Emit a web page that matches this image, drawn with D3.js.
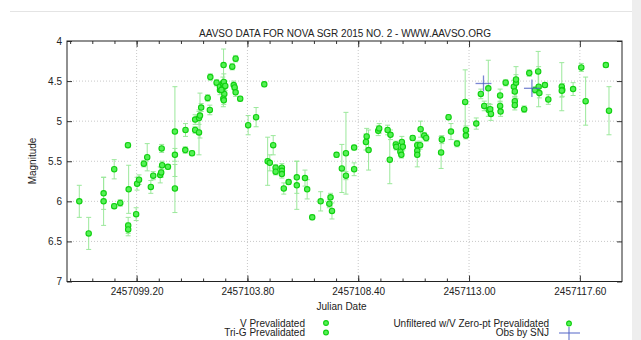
<!DOCTYPE html>
<html>
<head>
<meta charset="utf-8">
<title>AAVSO Nova Sgr 2015 No. 2</title>
<script src="https://cdn.jsdelivr.net/npm/d3@7"></script>
<style>
body { margin: 0; background: #fff; }
text { font-family: "Liberation Sans", Arial, sans-serif; font-size: 10px; fill: #222; }
.grid line { stroke: #c8c8c8; stroke-dasharray: 1,2; }
.ebar { stroke: #9be89b; stroke-width: 1; }
.pt { fill: #55f055; stroke: #10d010; stroke-width: 1.1; }
.snj { stroke: #4d5fc4; stroke-width: 1.3; stroke-opacity: 0.75; }
</style>
</head>
<body>
<div id="chart"></div>
<script>
// julian date minus 2457000
var jd = [96.82, 97.21, 97.83, 97.83, 98.27, 98.27, 98.52, 98.84, 98.87, 98.85, 98.85, 99.18, 99.22, 99.30,
	99.50, 99.64, 99.79, 99.89, 100.18, 100.22, 100.26, 100.24, 100.50, 100.79, 100.79, 100.79, 101.22, 101.23,
	101.50, 101.63, 101.79, 101.63, 101.79, 101.83, 101.88, 102.15, 102.24, 102.26, 102.52, 102.66, 102.66,
	102.81, 102.78, 102.82, 102.76, 102.84, 102.80, 102.82, 102.88, 102.72, 103.17, 103.31, 103.23, 103.27,
	103.31, 103.50, 103.83, 104.16, 104.50, 104.64, 104.73, 104.87, 104.97, 104.97, 105.23, 105.23, 105.23,
	105.31, 105.51, 105.85, 105.85, 106.19, 106.28, 106.49, 106.84, 107.20, 107.25, 107.31, 107.50, 107.72,
	107.89, 107.89, 108.23, 108.23, 108.72, 108.75, 108.83, 109.23, 109.27, 109.62, 109.74, 109.71, 109.96,
	109.98, 110.21, 110.25, 110.15, 110.19, 110.66, 110.85, 110.85, 110.85, 110.97, 110.99, 111.14, 111.22,
	111.84, 111.87, 112.15, 112.25, 112.50, 112.84, 112.87, 112.87, 113.30, 113.49, 113.63, 113.80, 113.82,
	113.88, 113.91, 114.29, 114.29, 114.31, 114.52, 114.86, 114.90, 114.95, 114.95, 114.90, 114.90, 115.29,
	115.50, 115.74, 115.87, 115.89, 115.92, 116.15, 116.29, 116.85, 116.87, 116.85, 117.32, 117.66, 117.84,
	118.68, 118.81];
var mag = [6.00, 6.40, 5.90, 6.00, 5.60, 6.06, 6.02, 5.30, 5.85, 6.30, 6.35, 6.16, 5.78, 5.73,
	5.53, 5.45, 5.82, 5.68, 5.67, 5.64, 5.55, 5.34, 5.57, 5.13, 5.42, 5.84, 5.36, 5.11,
	5.40, 5.11, 5.14, 4.98, 4.96, 4.93, 4.83, 4.71, 4.86, 4.45, 4.52, 4.61, 4.57,
	4.30, 4.53, 4.51, 4.60, 4.66, 4.72, 4.74, 4.56, 4.61, 4.32, 4.22, 4.55, 4.58,
	4.64, 4.72, 5.05, 4.95, 4.54, 5.50, 5.52, 5.30, 5.58, 5.63, 5.58, 5.62, 5.66,
	5.84, 5.76, 5.70, 5.80, 5.71, 5.85, 6.20, 6.00, 6.03, 5.95, 6.12, 5.42, 5.59,
	5.40, 5.68, 5.60, 5.33, 5.26, 5.19, 5.36, 5.12, 5.09, 5.11, 5.17, 5.48, 5.29,
	5.32, 5.26, 5.32, 5.38, 5.42, 5.21, 5.30, 5.37, 5.42, 5.30, 5.10, 5.18, 5.21,
	5.39, 5.23, 4.95, 5.13, 5.28, 4.76, 5.18, 5.11, 5.03, 4.66, 4.81, 4.59, 4.86,
	4.85, 4.91, 4.68, 4.81, 4.88, 4.52, 4.57, 4.63, 4.52, 4.48, 4.75, 4.80, 4.85,
	4.40, 4.61, 4.38, 4.57, 4.65, 4.55, 4.73, 4.57, 4.61, 4.62, 4.60, 4.33, 4.75,
	4.30, 4.87];
var err = [0.20, 0.20, 0.20, 0.30, 0.12, 0.03, 0.04, 0.03, 0.30, 0.10, 0.08, 0.08, 0.08, 0.06,
	0.04, 0.17, 0.08, 0.05, 0.10, 0.06, 0.05, 0.05, 0.03, 0.56, 0.08, 0.30, 0.04, 0.08,
	0.03, 0.04, 0.28, 0.06, 0.08, 0.28, 0.05, 0.04, 0.06, 0.04, 0.04, 0.06, 0.05,
	0.20, 0.08, 0.10, 0.10, 0.06, 0.10, 0.05, 0.06, 0.05, 0.04, 0.04, 0.05, 0.04,
	0.05, 0.03, 0.12, 0.12, 0.03, 0.30, 0.10, 0.12, 0.04, 0.04, 0.05, 0.05, 0.05,
	0.07, 0.03, 0.20, 0.30, 0.10, 0.12, 0.03, 0.12, 0.05, 0.05, 0.10, 0.03, 0.30,
	0.51, 0.05, 0.08, 0.03, 0.10, 0.10, 0.25, 0.06, 0.06, 0.06, 0.06, 0.30, 0.04,
	0.04, 0.07, 0.05, 0.04, 0.04, 0.03, 0.05, 0.05, 0.15, 0.05, 0.10, 0.04, 0.04,
	0.20, 0.05, 0.03, 0.10, 0.04, 0.40, 0.04, 0.05, 0.07, 0.06, 0.06, 0.35, 0.08,
	0.06, 0.08, 0.08, 0.06, 0.06, 0.04, 0.08, 0.06, 0.20, 0.06, 0.05, 0.06, 0.04,
	0.04, 0.04, 0.25, 0.25, 0.06, 0.03, 0.06, 0.30, 0.08, 0.08, 0.08, 0.05, 0.30,
	0.03, 0.30];

// Obs by SNJ
var snjJd = [113.60, 115.61];
var snjMag = [4.53, 4.59];
var snjJdErr = [0.33, 0.33];
var snjMagErr = [0.10, 0.11];

var xTicks = [99.2, 103.8, 108.4, 113.0, 117.6];
var yTicks = [4, 4.5, 5, 5.5, 6, 6.5, 7];
var legendLeft = ["V Prevalidated", "Tri-G Prevalidated"];
var legendRight = ["Unfiltered w/V Zero-pt Prevalidated", "Obs by SNJ"];

var W = 641, H = 340;
var L = 67, R = 622, T = 41, B = 281.5;

var svg = d3.select("#chart").append("svg").attr("width", W).attr("height", H);

// screenshot frame
svg.append("line").attr("x1", 10).attr("x2", 632).attr("y1", 11.5).attr("y2", 11.5)
	.attr("stroke", "#e4e4e4");
svg.append("rect").attr("x", 632).attr("y", 0).attr("width", 9).attr("height", H).attr("fill", "#eeeeee");

var x = d3.scaleLinear().domain([96.31, 119.35]).range([L, R]);
var y = d3.scaleLinear().domain([4, 7]).range([T, B]);

// grid
var grid = svg.append("g").attr("class", "grid");
grid.selectAll(".gx").data(xTicks).enter().append("line")
	.attr("x1", function(d) { return x(d); }).attr("x2", function(d) { return x(d); })
	.attr("y1", T).attr("y2", B);
grid.selectAll(".gy").data(yTicks.slice(1, -1)).enter().append("line")
	.attr("x1", L).attr("x2", R)
	.attr("y1", function(d) { return y(d); }).attr("y2", function(d) { return y(d); });

// axes, ticks pointing inward
var minor = d3.range(-3, 15).map(function(i) { return 99.2 + i * 0.92; })
	.filter(function(v) { return v > 96.31 && v < 119.35; });

svg.append("g").attr("transform", "translate(0," + B + ")")
	.call(d3.axisBottom(x).tickValues(minor).tickSize(-3).tickFormat(""));
svg.append("g").attr("transform", "translate(0," + B + ")")
	.call(d3.axisBottom(x).tickValues(xTicks).tickSize(-6).tickPadding(6)
		.tickFormat(function(d) { return (2457000 + d).toFixed(2); }));
svg.append("g").attr("transform", "translate(0," + T + ")")
	.call(d3.axisTop(x).tickValues(minor).tickSize(-3).tickFormat(""));
svg.append("g").attr("transform", "translate(0," + T + ")")
	.call(d3.axisTop(x).tickValues(xTicks).tickSize(-6).tickFormat(""));
svg.append("g").attr("transform", "translate(" + L + ",0)")
	.call(d3.axisLeft(y).tickValues(yTicks).tickSize(-5).tickPadding(5).tickFormat(d3.format("")));
svg.append("g").attr("transform", "translate(" + R + ",0)")
	.call(d3.axisRight(y).tickValues(yTicks).tickSize(-5).tickFormat(""));

svg.selectAll(".domain").remove();
svg.selectAll(".tick line").attr("stroke", "#333");
svg.selectAll(".tick text").style("font-size", "10px").attr("fill", "#222");

svg.append("rect").attr("x", L).attr("y", T).attr("width", R - L).attr("height", B - T)
	.attr("fill", "none").attr("stroke", "#222").attr("stroke-width", 1);

// error bars
var pts = jd.map(function(d, i) { return { jd: d, mag: mag[i], err: err[i] }; });
var eb = svg.append("g");
pts.forEach(function(p) {
	var cx = x(p.jd), y1 = y(p.mag - p.err), y2 = y(p.mag + p.err);
	eb.append("line").attr("class", "ebar").attr("x1", cx).attr("x2", cx).attr("y1", y1).attr("y2", y2);
	eb.append("line").attr("class", "ebar").attr("x1", cx - 2.5).attr("x2", cx + 2.5).attr("y1", y1).attr("y2", y1);
	eb.append("line").attr("class", "ebar").attr("x1", cx - 2.5).attr("x2", cx + 2.5).attr("y1", y2).attr("y2", y2);
});

svg.append("g").selectAll("circle").data(pts).enter().append("circle")
	.attr("class", "pt")
	.attr("cx", function(d) { return x(d.jd); })
	.attr("cy", function(d) { return y(d.mag); })
	.attr("r", 2.7);

// SNJ crosses
var sg = svg.append("g");
snjJd.forEach(function(d, i) {
	sg.append("line").attr("class", "snj")
		.attr("x1", x(d - snjJdErr[i])).attr("x2", x(d + snjJdErr[i]))
		.attr("y1", y(snjMag[i])).attr("y2", y(snjMag[i]));
	sg.append("line").attr("class", "snj")
		.attr("x1", x(d)).attr("x2", x(d))
		.attr("y1", y(snjMag[i] - snjMagErr[i])).attr("y2", y(snjMag[i] + snjMagErr[i]));
});

// labels
svg.append("text").attr("x", 345).attr("y", 37).attr("text-anchor", "middle")
	.text("AAVSO DATA FOR NOVA SGR 2015 NO. 2 - WWW.AAVSO.ORG");
svg.append("text").attr("x", (L + R) / 2 - 3).attr("y", 309.5).attr("text-anchor", "middle").text("Julian Date");
svg.append("text").attr("transform", "translate(36,161) rotate(-90)").attr("text-anchor", "middle")
	.text("Magnitude");

// legend
var lg = svg.append("g");
legendLeft.forEach(function(t, i) {
	var ly = 323 + i * 9.5;
	lg.append("text").attr("x", 305).attr("y", ly + 3.5).attr("text-anchor", "end").text(t);
	lg.append("circle").attr("class", "pt").attr("cx", 326).attr("cy", ly).attr("r", 2.4);
});
legendRight.forEach(function(t, i) {
	var ly = 323 + i * 9.5;
	lg.append("text").attr("x", 549).attr("y", ly + 3.5).attr("text-anchor", "end").text(t);
});
lg.append("line").attr("class", "ebar").attr("x1", 569).attr("x2", 569).attr("y1", 320).attr("y2", 326);
lg.append("circle").attr("class", "pt").attr("cx", 569).attr("cy", 323.5).attr("r", 2.4);
lg.append("line").attr("class", "snj").attr("x1", 559).attr("x2", 580).attr("y1", 333).attr("y2", 333);
lg.append("line").attr("class", "snj").attr("x1", 569).attr("x2", 569).attr("y1", 327).attr("y2", 340);
</script>
</body>
</html>
